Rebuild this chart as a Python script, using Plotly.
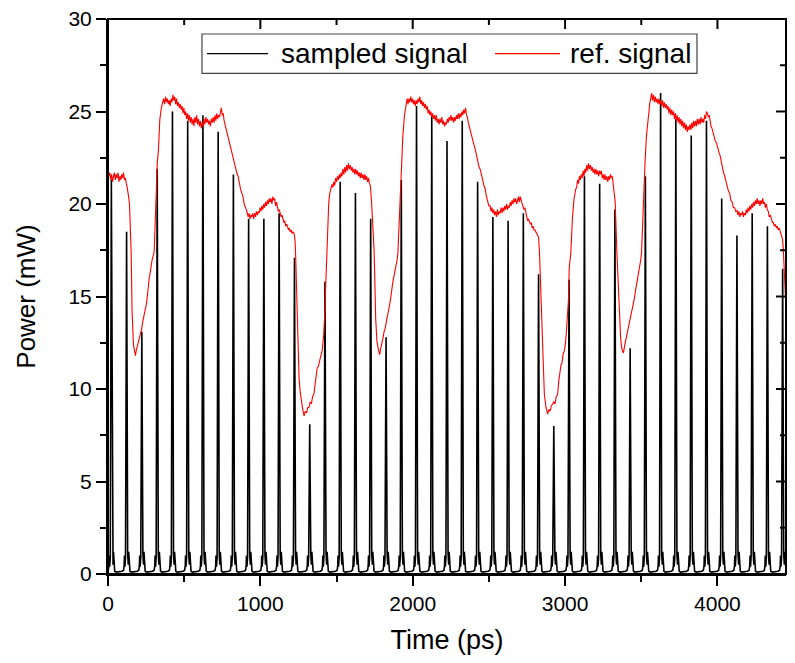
import plotly.graph_objects as go

# ---------------- data ----------------
# sampled signal: spike centre times (ps) and peak powers (mW)
spike_times = [22, 122, 222, 323, 423, 523, 623, 723, 823, 923, 1023, 1123, 1224, 1324, 1424,
               1524, 1624, 1724, 1825, 1925, 2025, 2125, 2225, 2325, 2426, 2526, 2626, 2726,
               2826, 2926, 3026, 3127, 3227, 3327, 3427, 3527, 3627, 3727, 3828, 3928, 4028,
               4128, 4228, 4328, 4428]
spike_peaks = [21.3, 18.5, 13.1, 21.9, 25.0, 24.5, 24.8, 23.9, 21.6, 19.2, 19.2, 19.5, 17.1, 8.1,
               15.8, 21.2, 20.6, 19.2, 12.8, 21.3, 25.3, 24.8, 23.4, 24.5, 21.2, 19.3, 19.1, 19.5,
               16.2, 8.0, 15.9, 21.5, 21.1, 19.7, 12.2, 21.5, 26.0, 24.6, 23.7, 24.5, 20.3, 18.3,
               19.5, 18.8, 16.5]
# shape of one sampled pulse around its centre (offset in ps, level in mW; None = peak)
pulse_offsets = [-45, -30, -20, -16, -14, -11, -7, 0, 7, 11, 14, 17, 22, 32, 45]
pulse_levels = [0.10, 0.15, 0.20, 0.45, 1.00, 0.40, 0.90, None, 1.10, 0.50, 1.20, 0.30, 0.15, 0.10, 0.12]

# reference signal, read as (time ps, power mW) pairs
ref_readings = [
    (0, 21.9), (6, 21.5), (12, 21.7), (18, 21.3), (24, 21.6), (30, 21.2), (36, 21.5), (42, 21.7),
    (48, 21.3), (54, 21.6), (60, 21.4), (66, 21.7), (72, 21.2), (78, 21.5), (84, 21.3), (90, 21.6),
    (96, 21.4), (102, 21.7), (108, 21.3), (114, 21.4), (120, 21.1), (126, 20.9), (135, 20.4),
    (141, 20.0), (152, 17.4), (158, 14.2), (167, 12.4), (174, 11.9), (180, 11.8), (186, 12.1),
    (193, 12.4), (200, 12.5), (206, 12.75), (213, 13.0), (220, 13.2), (227, 13.6), (235, 13.9),
    (243, 14.2), (251, 14.55), (258, 15.0), (264, 15.6), (270, 15.97), (277, 16.3), (284, 16.7),
    (290, 17.0), (303, 17.4), (313, 19.8), (318, 21.9), (324, 22.3), (331, 22.9), (340, 24.55),
    (350, 25.2), (357, 25.45), (365, 25.7), (372, 25.4), (378, 25.8), (384, 25.5), (390, 25.7),
    (396, 25.4), (402, 25.6), (408, 25.3), (414, 25.7), (420, 25.5), (426, 25.9), (432, 25.6),
    (438, 25.8), (444, 25.4), (450, 25.7), (456, 25.3), (462, 25.5), (468, 25.2), (474, 25.4),
    (480, 25.1), (486, 25.3), (492, 24.9), (498, 25.2), (504, 24.8), (510, 25.0), (516, 24.6),
    (522, 24.9), (528, 24.5), (534, 24.8), (540, 24.4), (546, 24.7), (552, 24.3), (558, 24.6),
    (564, 24.2), (570, 24.7), (576, 24.4), (582, 24.8), (588, 24.3), (594, 24.6), (600, 24.2),
    (606, 24.5), (612, 24.1), (618, 24.4), (624, 24.2), (630, 24.6), (636, 24.3), (642, 24.7),
    (648, 24.4), (654, 24.6), (660, 24.3), (666, 24.5), (672, 24.2), (678, 24.6), (684, 24.4),
    (690, 24.7), (696, 24.4), (702, 24.8), (708, 24.5), (714, 24.9), (720, 24.6), (726, 24.8),
    (732, 24.7), (738, 25.0), (744, 25.2), (750, 24.8), (756, 24.9), (762, 24.5), (768, 24.3),
    (774, 24.1), (780, 23.8), (790, 23.5), (800, 23.2), (811, 22.76), (820, 22.4), (828, 22.2),
    (836, 21.9), (845, 21.7), (854, 21.5), (862, 21.0), (870, 20.8), (878, 20.6), (886, 20.4),
    (894, 20.0), (900, 19.8), (908, 19.7), (914, 19.5), (920, 19.3), (926, 19.5), (932, 19.2),
    (938, 19.4), (944, 19.3), (950, 19.5), (956, 19.2), (962, 19.5), (968, 19.3), (974, 19.6),
    (980, 19.4), (986, 19.6), (992, 19.5), (998, 19.8), (1004, 19.6), (1010, 19.9), (1016, 19.7),
    (1022, 20.0), (1028, 19.8), (1034, 20.1), (1040, 19.9), (1046, 20.2), (1052, 20.0),
    (1058, 20.3), (1064, 20.1), (1070, 20.3), (1076, 20.0), (1082, 20.4), (1088, 20.2),
    (1094, 20.3), (1100, 19.9), (1106, 20.1), (1112, 19.8), (1118, 19.6), (1124, 19.7),
    (1130, 19.4), (1136, 19.3), (1142, 19.4), (1148, 19.1), (1154, 19.0), (1160, 19.1),
    (1166, 18.8), (1172, 18.9), (1178, 18.8), (1184, 18.6), (1190, 18.7), (1196, 18.5),
    (1202, 18.6), (1208, 18.4), (1214, 18.5), (1222, 18.4), (1228, 18.0), (1232, 17.1),
    (1243, 13.8), (1254, 10.6), (1262, 9.8), (1269, 9.35), (1278, 8.9), (1287, 8.55), (1295, 8.8),
    (1303, 8.7), (1311, 9.0), (1319, 9.0), (1327, 9.3), (1335, 9.2), (1343, 9.6), (1351, 9.7),
    (1358, 10.2), (1366, 10.5), (1373, 11.14), (1380, 11.2), (1389, 11.6), (1397, 11.8),
    (1405, 12.03), (1410, 12.4), (1416, 12.93), (1422, 14.0), (1429, 15.8), (1438, 17.4),
    (1449, 20.1), (1456, 20.6), (1463, 20.9), (1470, 21.06), (1476, 20.9), (1482, 21.2),
    (1488, 21.0), (1494, 21.4), (1500, 21.2), (1506, 21.5), (1512, 21.3), (1518, 21.6),
    (1524, 21.4), (1530, 21.7), (1536, 21.5), (1542, 21.9), (1548, 21.6), (1554, 22.0),
    (1560, 21.7), (1566, 22.1), (1572, 21.8), (1578, 22.2), (1584, 21.9), (1590, 22.1),
    (1596, 21.8), (1602, 22.0), (1608, 21.7), (1614, 21.9), (1620, 21.6), (1626, 21.9),
    (1632, 21.6), (1638, 21.8), (1644, 21.5), (1650, 21.7), (1656, 21.4), (1662, 21.7),
    (1668, 21.4), (1674, 21.6), (1680, 21.3), (1686, 21.6), (1692, 21.3), (1698, 21.5),
    (1704, 21.2), (1710, 21.4), (1716, 21.1), (1722, 21.0), (1730, 20.1), (1741, 18.3),
    (1747, 17.4), (1757, 13.8), (1765, 12.6), (1773, 12.2), (1783, 11.86), (1790, 12.2),
    (1797, 12.4), (1805, 12.75), (1812, 13.1), (1820, 13.3), (1827, 13.64), (1834, 13.9),
    (1841, 14.3), (1848, 14.54), (1855, 14.9), (1862, 15.4), (1870, 15.8), (1877, 16.1),
    (1885, 16.4), (1892, 16.7), (1898, 17.0), (1903, 17.4), (1914, 19.5), (1924, 21.9),
    (1935, 23.66), (1946, 24.8), (1957, 25.45), (1963, 25.7), (1969, 25.4), (1975, 25.7),
    (1981, 25.5), (1987, 25.8), (1993, 25.5), (1999, 25.7), (2005, 25.4), (2011, 25.6),
    (2017, 25.3), (2023, 25.6), (2029, 25.4), (2035, 25.7), (2041, 25.5), (2047, 25.8),
    (2053, 25.4), (2059, 25.6), (2065, 25.3), (2071, 25.5), (2077, 25.2), (2083, 25.4),
    (2089, 25.1), (2095, 25.3), (2101, 24.9), (2107, 25.1), (2113, 24.8), (2119, 25.0),
    (2125, 24.7), (2131, 24.9), (2137, 24.6), (2143, 24.8), (2149, 24.5), (2155, 24.8),
    (2161, 24.4), (2167, 24.6), (2173, 24.3), (2179, 24.6), (2185, 24.4), (2191, 24.7),
    (2197, 24.3), (2203, 24.5), (2209, 24.2), (2215, 24.4), (2221, 24.3), (2227, 24.6),
    (2233, 24.4), (2239, 24.7), (2245, 24.5), (2251, 24.8), (2257, 24.5), (2263, 24.7),
    (2269, 24.4), (2275, 24.7), (2281, 24.5), (2287, 24.8), (2293, 24.6), (2299, 24.9),
    (2305, 24.6), (2311, 24.9), (2317, 24.7), (2323, 25.0), (2329, 24.8), (2335, 25.1),
    (2341, 24.9), (2347, 25.2), (2353, 24.8), (2359, 24.7), (2365, 24.4), (2371, 24.2),
    (2378, 24.0), (2386, 23.6), (2394, 23.3), (2402, 23.2), (2411, 22.94), (2419, 22.6),
    (2427, 22.4), (2435, 22.0), (2443, 21.87), (2451, 21.5), (2459, 21.3), (2467, 21.0),
    (2476, 20.8), (2484, 20.4), (2492, 20.2), (2500, 19.9), (2508, 19.9), (2514, 19.6),
    (2520, 19.8), (2526, 19.5), (2532, 19.7), (2538, 19.4), (2544, 19.6), (2550, 19.3),
    (2556, 19.7), (2562, 19.4), (2568, 19.6), (2574, 19.5), (2580, 19.8), (2586, 19.5),
    (2592, 19.8), (2598, 19.6), (2604, 19.9), (2610, 19.7), (2616, 20.0), (2622, 19.7),
    (2628, 19.9), (2634, 19.8), (2640, 20.1), (2646, 19.9), (2652, 20.2), (2658, 20.0),
    (2664, 20.3), (2670, 20.1), (2676, 20.3), (2682, 20.0), (2688, 20.2), (2694, 20.4),
    (2700, 20.1), (2706, 20.4), (2712, 20.2), (2718, 20.0), (2724, 19.9), (2730, 19.7),
    (2736, 19.8), (2742, 19.5), (2748, 19.4), (2754, 19.1), (2760, 19.2), (2766, 19.0),
    (2772, 18.9), (2778, 19.0), (2784, 18.7), (2790, 18.8), (2796, 18.6), (2802, 18.6),
    (2808, 18.5), (2814, 18.4), (2820, 18.3), (2826, 18.2), (2832, 17.4), (2843, 15.0),
    (2853, 12.93), (2864, 9.7), (2875, 9.0), (2886, 8.64), (2894, 8.9), (2902, 8.8), (2910, 9.1),
    (2918, 9.17), (2926, 9.3), (2934, 9.2), (2942, 9.6), (2951, 9.7), (2958, 10.4), (2966, 10.8),
    (2973, 11.3), (2980, 11.4), (2987, 11.9), (2994, 12.03), (3000, 12.3), (3008, 13.0),
    (3016, 13.8), (3022, 14.8), (3027, 16.5), (3038, 17.4), (3048, 19.2), (3059, 20.3),
    (3070, 20.8), (3076, 20.9), (3082, 21.3), (3088, 21.1), (3094, 21.5), (3100, 21.3),
    (3106, 21.6), (3112, 21.4), (3118, 21.8), (3124, 21.5), (3130, 21.9), (3136, 21.7),
    (3142, 22.1), (3148, 21.8), (3154, 22.2), (3160, 21.9), (3166, 22.1), (3172, 21.8),
    (3178, 22.0), (3184, 21.7), (3190, 21.9), (3196, 21.6), (3202, 21.9), (3208, 21.6),
    (3214, 21.8), (3220, 21.5), (3226, 21.8), (3232, 21.6), (3238, 21.8), (3244, 21.4),
    (3250, 21.6), (3256, 21.3), (3262, 21.6), (3268, 21.3), (3274, 21.5), (3280, 21.2),
    (3286, 21.5), (3292, 21.3), (3298, 21.6), (3304, 21.4), (3310, 21.5), (3316, 21.1),
    (3322, 20.8), (3329, 20.1), (3340, 17.4), (3357, 13.8), (3365, 12.7), (3372, 12.2),
    (3383, 11.94), (3390, 12.3), (3398, 12.6), (3405, 12.93), (3412, 13.2), (3420, 13.5),
    (3427, 13.8), (3434, 14.1), (3441, 14.3), (3448, 14.54), (3455, 14.9), (3462, 15.3),
    (3469, 15.6), (3476, 15.9), (3484, 16.3), (3492, 16.7), (3497, 17.0), (3502, 17.4),
    (3510, 19.3), (3517, 20.98), (3525, 22.3), (3534, 23.66), (3545, 24.7), (3556, 25.45),
    (3562, 25.7), (3568, 26.0), (3574, 25.6), (3580, 25.9), (3586, 25.5), (3592, 25.8),
    (3598, 25.5), (3604, 25.7), (3610, 25.4), (3616, 25.7), (3622, 25.4), (3628, 25.6),
    (3634, 25.3), (3640, 25.6), (3646, 25.2), (3652, 25.5), (3658, 25.2), (3664, 25.4),
    (3670, 25.1), (3676, 25.3), (3682, 24.9), (3688, 25.2), (3694, 24.8), (3700, 25.1),
    (3706, 24.8), (3712, 25.0), (3718, 24.6), (3724, 24.9), (3730, 24.5), (3736, 24.8),
    (3742, 24.4), (3748, 24.7), (3754, 24.3), (3760, 24.6), (3766, 24.2), (3772, 24.5),
    (3778, 24.1), (3784, 24.4), (3790, 24.0), (3796, 24.3), (3802, 23.9), (3808, 24.2),
    (3814, 24.0), (3820, 24.3), (3826, 24.0), (3832, 24.4), (3838, 24.1), (3844, 24.5),
    (3850, 24.2), (3856, 24.5), (3862, 24.2), (3868, 24.6), (3874, 24.3), (3880, 24.6),
    (3886, 24.3), (3892, 24.7), (3898, 24.4), (3904, 24.6), (3910, 24.4), (3916, 24.8),
    (3922, 24.6), (3928, 25.0), (3934, 24.9), (3940, 24.7), (3946, 24.8), (3952, 24.4),
    (3958, 24.2), (3964, 24.1), (3970, 23.9), (3978, 23.6), (3986, 23.4), (3994, 23.3),
    (4002, 23.0), (4010, 22.8), (4018, 22.6), (4026, 22.2), (4032, 22.05), (4040, 21.7),
    (4048, 21.5), (4056, 21.2), (4064, 20.98), (4072, 20.7), (4080, 20.6), (4088, 20.2),
    (4097, 20.1), (4105, 19.8), (4113, 19.8), (4121, 19.6), (4129, 19.64), (4135, 19.4),
    (4141, 19.6), (4147, 19.3), (4153, 19.5), (4159, 19.4), (4165, 19.6), (4171, 19.3),
    (4177, 19.5), (4183, 19.4), (4189, 19.7), (4195, 19.5), (4201, 19.8), (4207, 19.6),
    (4213, 19.9), (4219, 19.7), (4225, 20.0), (4231, 19.8), (4237, 20.1), (4243, 19.9),
    (4249, 20.2), (4255, 20.0), (4261, 20.3), (4267, 20.0), (4273, 20.2), (4279, 19.9),
    (4285, 20.2), (4291, 20.0), (4297, 20.3), (4303, 20.0), (4309, 20.1), (4315, 19.8),
    (4321, 20.0), (4327, 19.7), (4334, 19.6), (4340, 19.3), (4347, 19.4), (4354, 19.1),
    (4361, 19.0), (4367, 19.0), (4373, 18.8), (4380, 18.9), (4387, 18.7), (4393, 18.8),
    (4399, 18.6), (4406, 18.7), (4413, 18.5), (4421, 18.4), (4427, 18.1), (4432, 17.6),
    (4437, 16.8), (4442, 15.4), (4449, 14.5),
]
ref_t = [t for t, _ in ref_readings]
ref_p = [p for _, p in ref_readings]

x_ticks = [0, 1000, 2000, 3000, 4000]
x_minor = [500, 1500, 2500, 3500]
y_ticks = [0, 5, 10, 15, 20, 25, 30]
y_minor = [2.5, 7.5, 12.5, 17.5, 22.5, 27.5]

# ---------------- build sampled trace ----------------
sx, sy = [], []
for t0, pk in zip(spike_times, spike_peaks):
    for off, lv in zip(pulse_offsets, pulse_levels):
        sx.append(t0 + off)
        sy.append(pk if lv is None else lv)

FONT = "Liberation Sans, Arial, sans-serif"

fig = go.Figure()
fig.add_trace(go.Scatter(x=sx, y=sy, mode="lines", name="sampled signal",
                         line=dict(color="black", width=1.6), showlegend=False))
fig.add_trace(go.Scatter(x=ref_t, y=ref_p, mode="lines", name="ref. signal",
                         line=dict(color="#ff0000", width=1.1), showlegend=False))

axis_common = dict(showline=True, linecolor="black", linewidth=2, showgrid=False,
                   zeroline=False, tickcolor="black", tickwidth=2, ticklen=10,
                   automargin=False, ticklabeloverflow="allow")

# the page body offsets the figure by 8 px and clips it at the body width,
# so the figure is 779 x 647 and the plot frame sits at about x 108..786, y 19..574
fig.update_layout(
    width=779, height=647,
    margin=dict(l=100, r=1, t=11, b=81),
    paper_bgcolor="white", plot_bgcolor="white",
    font=dict(family=FONT, color="black", size=21),
    xaxis=dict(range=[0, 4450], tickvals=x_ticks, ticks="outside",
               minor=dict(tickvals=x_minor, ticks="outside", ticklen=6, tickwidth=2,
                          tickcolor="black"),
               title=dict(text="Time (ps)", font=dict(size=27), standoff=16),
               tickfont=dict(size=21), **axis_common),
    yaxis=dict(range=[0, 30], tickvals=y_ticks, ticks="outside",
               minor=dict(tickvals=y_minor, ticks="outside", ticklen=6, tickwidth=2,
                          tickcolor="black"),
               title=dict(text="Power (mW)", font=dict(size=26), standoff=25),
               tickfont=dict(size=21), **axis_common),
    showlegend=False,
)

# plot frame (top and right sides) and inward ticks on the top / right sides
fig.add_shape(type="rect", xref="paper", yref="paper", x0=0, x1=1, y0=0, y1=1,
              line=dict(color="black", width=2), fillcolor="rgba(0,0,0,0)", layer="above")
for xv, ln in [(v, 10) for v in x_ticks] + [(v, 6) for v in x_minor]:
    fig.add_shape(type="line", xref="x", yref="paper", ysizemode="pixel", yanchor=1,
                  x0=xv, x1=xv, y0=0, y1=-ln, line=dict(color="black", width=2), layer="above")
for yv, ln in [(v, 10) for v in y_ticks] + [(v, 6) for v in y_minor]:
    fig.add_shape(type="line", xref="paper", yref="y", xsizemode="pixel", xanchor=1,
                  y0=yv, y1=yv, x0=0, x1=-ln, line=dict(color="black", width=2), layer="above")

# custom legend box (paper coordinates)
box = dict(x0=0.1386, x1=0.8687, y0=0.902, y1=0.973)
ymid = (box["y0"] + box["y1"]) / 2
fig.add_shape(type="rect", xref="paper", yref="paper", **box,
              line=dict(color="#444", width=1.2), fillcolor="white", layer="above")
fig.add_shape(type="line", xref="paper", yref="paper", x0=0.1460, x1=0.2360, y0=ymid, y1=ymid,
              line=dict(color="black", width=1.2), layer="above")
fig.add_shape(type="line", xref="paper", yref="paper", x0=0.5708, x1=0.6667, y0=ymid, y1=ymid,
              line=dict(color="#ff0000", width=1.2), layer="above")
fig.add_annotation(xref="paper", yref="paper", x=0.2522, y=ymid, text="sampled signal",
                   showarrow=False, xanchor="left", yanchor="middle",
                   font=dict(size=28, family=FONT, color="black"))
fig.add_annotation(xref="paper", yref="paper", x=0.6785, y=ymid, text="ref. signal",
                   showarrow=False, xanchor="left", yanchor="middle",
                   font=dict(size=28, family=FONT, color="black"))

fig.write_html("out.html")
